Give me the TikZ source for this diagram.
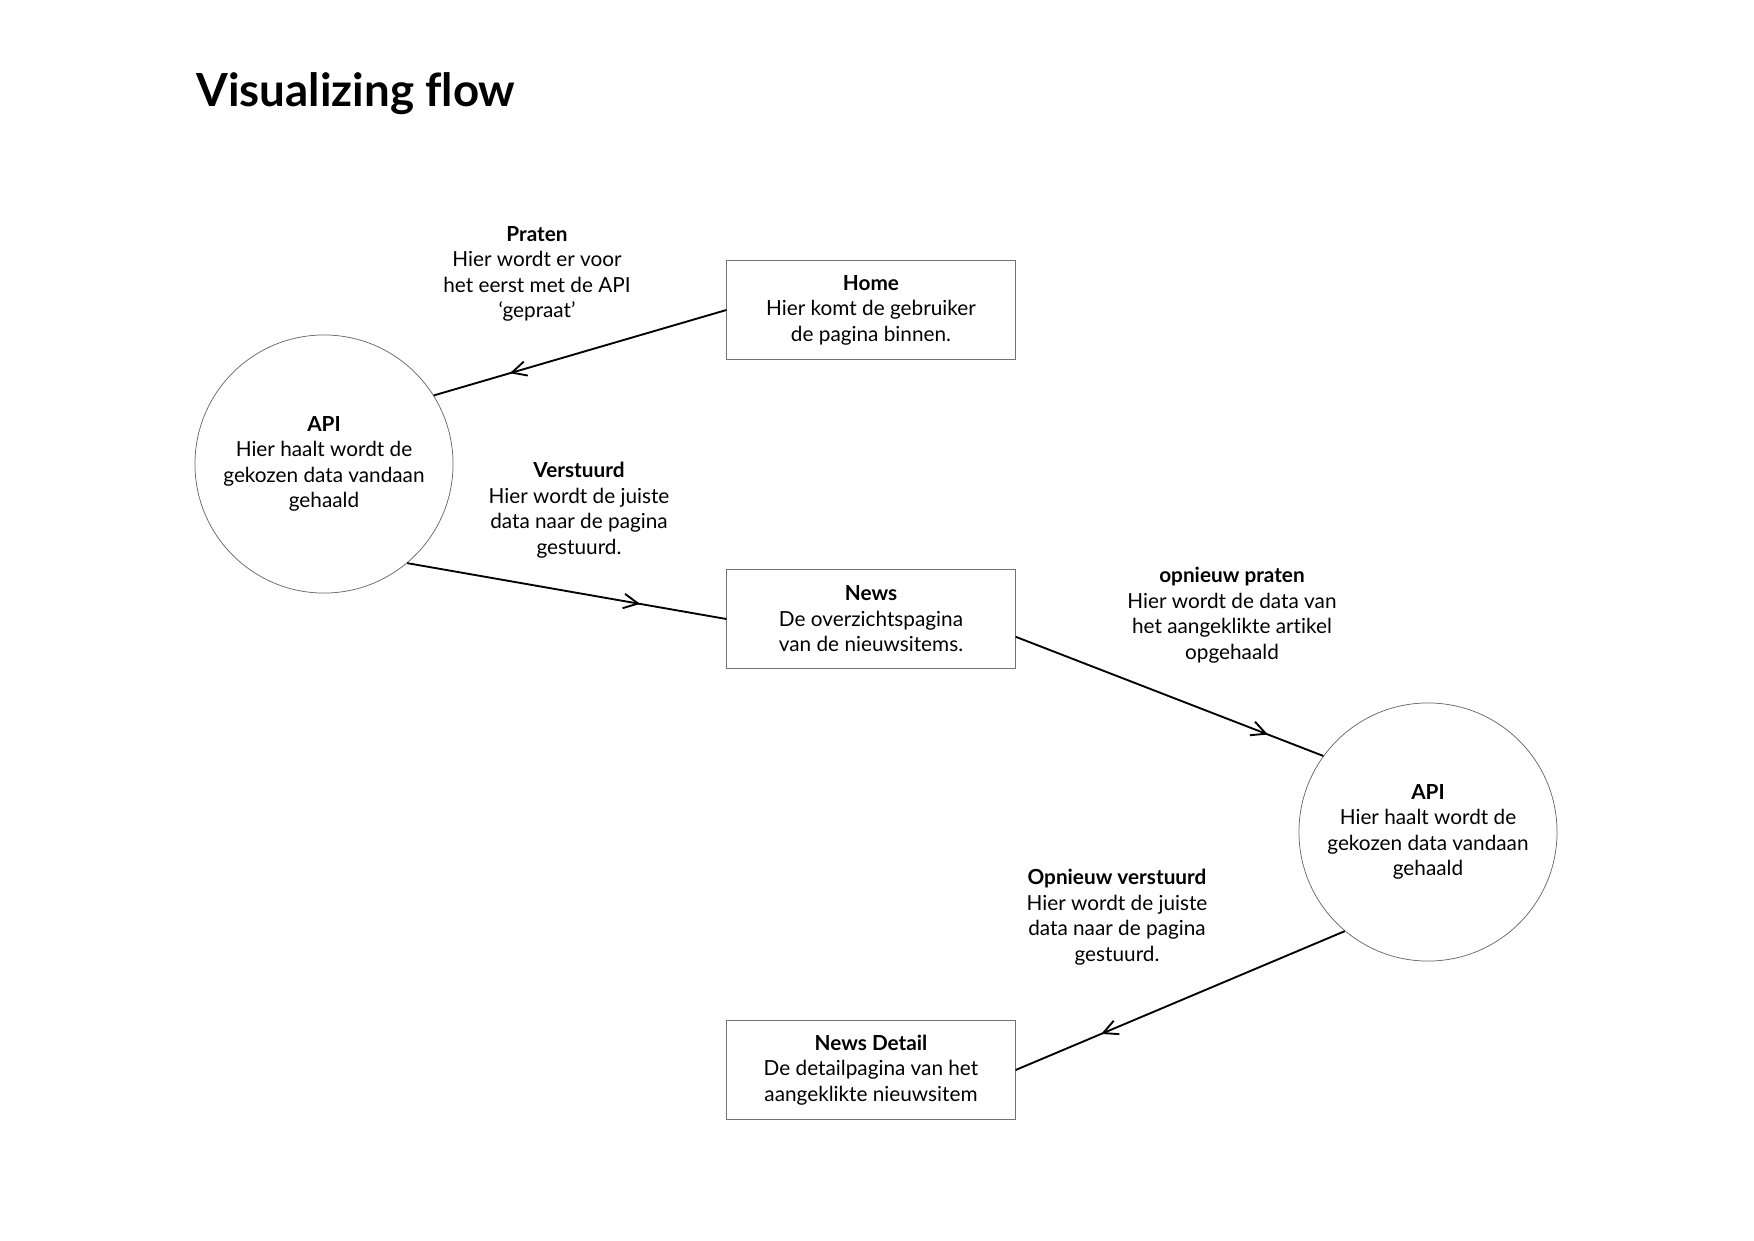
\documentclass[tikz,border=0pt]{standalone}
\usepackage{fontspec}
\setmainfont{Lato}[Ligatures=NoCommon]
\usetikzlibrary{arrows.meta,decorations.markings}

\tikzset{
  page/.style={x=0.16933mm,y=-0.16933mm},
  txt/.style={align=center,font=\fontsize{10}{12.3}\selectfont,inner sep=0pt},
  pagebox/.style={txt,draw=black!55,line width=0.5pt,minimum width=48.8mm,minimum height=16.9mm},
  apicircle/.style={txt,circle,draw=black!60,line width=0.35pt,minimum size=43.7mm},
  flow/.style={line width=0.9pt,postaction={decorate},
    decoration={markings,mark=at position #1 with {\arrow{Straight Barb[length=7pt,width=7pt,line width=0.9pt]}}}},
  flow/.default=0.75
}

\begin{document}
\begin{tikzpicture}[page]
    \useasboundingbox (0,0) rectangle (1754,1240);
    %% title
    \node[anchor=base west,inner sep=0pt,font=\fontsize{22}{26}\selectfont\bfseries] (title) at (196,106) {Visualizing flow};
    %% pages
    \node[pagebox] (home) at (871,310) {\textbf{Home}\\Hier komt de gebruiker\\de pagina binnen.};
    \node[pagebox] (news) at (871,619) {\textbf{News}\\De overzichtspagina\\van de nieuwsitems.};
    \node[pagebox] (detail) at (871,1070) {\textbf{News Detail}\\De detailpagina van het\\aangeklikte nieuwsitem};
    %% api calls
    \node[apicircle] (api1) at (324,464) {\textbf{API}\\Hier haalt wordt de\\gekozen data vandaan\\gehaald};
    \node[apicircle] (api2) at (1428,832) {\textbf{API}\\Hier haalt wordt de\\gekozen data vandaan\\gehaald};
    %% flow labels
    \node[txt] (praten) at (537,274) {\textbf{Praten}\\Hier wordt er voor\\het eerst met de API\\`gepraat'};
    \node[txt] (verstuurd) at (579,510) {\textbf{Verstuurd}\\Hier wordt de juiste\\data naar de pagina\\gestuurd.};
    \node[txt] (opnieuw) at (1232,615) {\textbf{opnieuw praten}\\Hier wordt de data van\\het aangeklikte artikel\\opgehaald};
    \node[txt] (terug) at (1117,917) {\textbf{Opnieuw verstuurd}\\Hier wordt de juiste\\data naar de pagina\\gestuurd.};
    %% connectors (angles by trial and error)
    \draw[flow=0.74] (home.west) -- (api1.32);
    \draw[flow=0.73] (api1.-50) -- (news.west);
    \draw[flow=0.82] (news.-7.5) -- (api2.144);
    \draw[flow=0.74] (api2.230) -- (detail.east);
\end{tikzpicture}
\end{document}
